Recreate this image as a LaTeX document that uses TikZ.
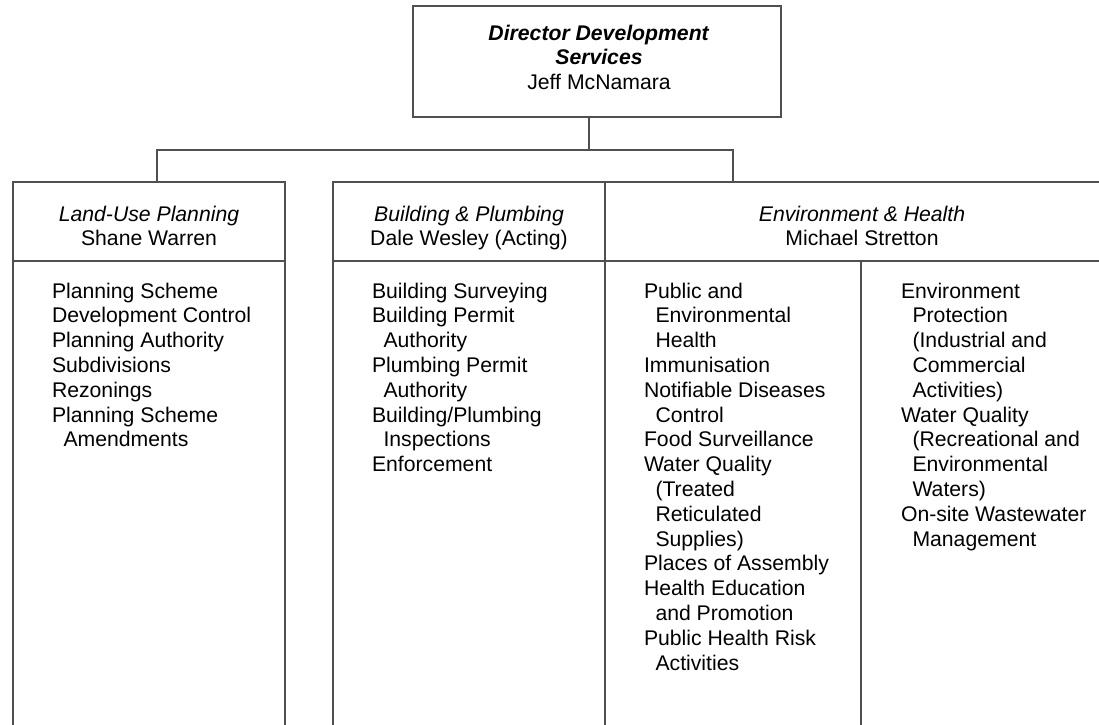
\documentclass[tikz,border=0pt]{standalone}
\usepackage{fontspec}
\setmainfont{Liberation Sans}
\definecolor{linecol}{RGB}{80,80,80}
\newcommand{\indt}{\hspace*{11.5pt}}
\tikzset{
  ln/.style={draw=linecol, line width=1.2pt},
  boxn/.style={draw=linecol, line width=1.2pt, rectangle, inner sep=0pt, outer sep=0pt},
  txt/.style={inner sep=0pt, outer sep=0pt, font=\fontsize{21.2}{24.8}\selectfont},
  hd/.style={txt, align=center, anchor=north},
  lst/.style={txt, align=left, anchor=north west},
}
\begin{document}
\begin{tikzpicture}[x=1pt, y=-1pt]
\useasboundingbox (0,0) rectangle (1099,724);
\clip (0,0) rectangle (1099,724);
\fill[white] (0,0) rectangle (1099,724);

% director
\node[boxn, minimum width=368pt, minimum height=111pt, anchor=north west] (dir) at (413,6) {};
\node[hd] (dirt) at (599,22.64) {\strut\textbf{\textit{Director Development}}\\\textbf{\textit{Services}}\\Jeff McNamara};

% headers
\node[boxn, minimum width=272pt, minimum height=79pt, anchor=north west] (lup) at (13,182) {};
\node[boxn, minimum width=272pt, minimum height=79pt, anchor=north west] (bp) at (333,182) {};
\node[boxn, minimum width=514pt, minimum height=79pt, anchor=north west] (eh) at (605,182) {};

\node[hd] (lupt) at (149,203.64) {\strut\textit{Land-Use Planning}\\Shane Warren};
\node[hd] (bpt) at (469,203.64) {\strut\textit{Building \& Plumbing}\\Dale Wesley (Acting)};
\node[hd] (eht) at (862,203.64) {\strut\textit{Environment \& Health}\\Michael Stretton};

% connectors
\coordinate (j) at (589,150);
\coordinate (bl) at (157,150);
\coordinate (br) at (733,150);
\draw[ln] (dir.south -| j) -- (j);
\draw[ln] (bl |- lup.north) -- (bl) -- (br) -- (br |- eh.north);

% body lines
\coordinate (bot) at (0,740);
\coordinate (ed) at (861,261);
\draw[ln] (lup.south west) -- (lup.south west |- bot);
\draw[ln] (lup.south east) -- (lup.south east |- bot);
\draw[ln] (bp.south west) -- (bp.south west |- bot);
\draw[ln] (bp.south east) -- (bp.south east |- bot);
\draw[ln] (ed) -- (ed |- bot);

% lists
\node[lst] (lupl) at (52,280.64) {\strut Planning Scheme\\Development Control\\Planning Authority\\Subdivisions\\Rezonings\\Planning Scheme\\\indt Amendments};
\node[lst] (bpl) at (372,280.64) {\strut Building Surveying\\Building Permit\\\indt Authority\\Plumbing Permit\\\indt Authority\\Building/Plumbing\\\indt Inspections\\Enforcement};
\node[lst] (ehl) at (644,280.64) {\strut Public and\\\indt Environmental\\\indt Health\\Immunisation\\Notifiable Diseases\\\indt Control\\Food Surveillance\\Water Quality\\\indt (Treated\\\indt Reticulated\\\indt Supplies)\\Places of Assembly\\Health Education\\\indt and Promotion\\Public Health Risk\\\indt Activities};
\node[lst] (ehr) at (901,280.64) {\strut Environment\\\indt Protection\\\indt (Industrial and\\\indt Commercial\\\indt Activities)\\Water Quality\\\indt (Recreational and\\\indt Environmental\\\indt Waters)\\On-site Wastewater\\\indt Management};
\end{tikzpicture}
\end{document}
